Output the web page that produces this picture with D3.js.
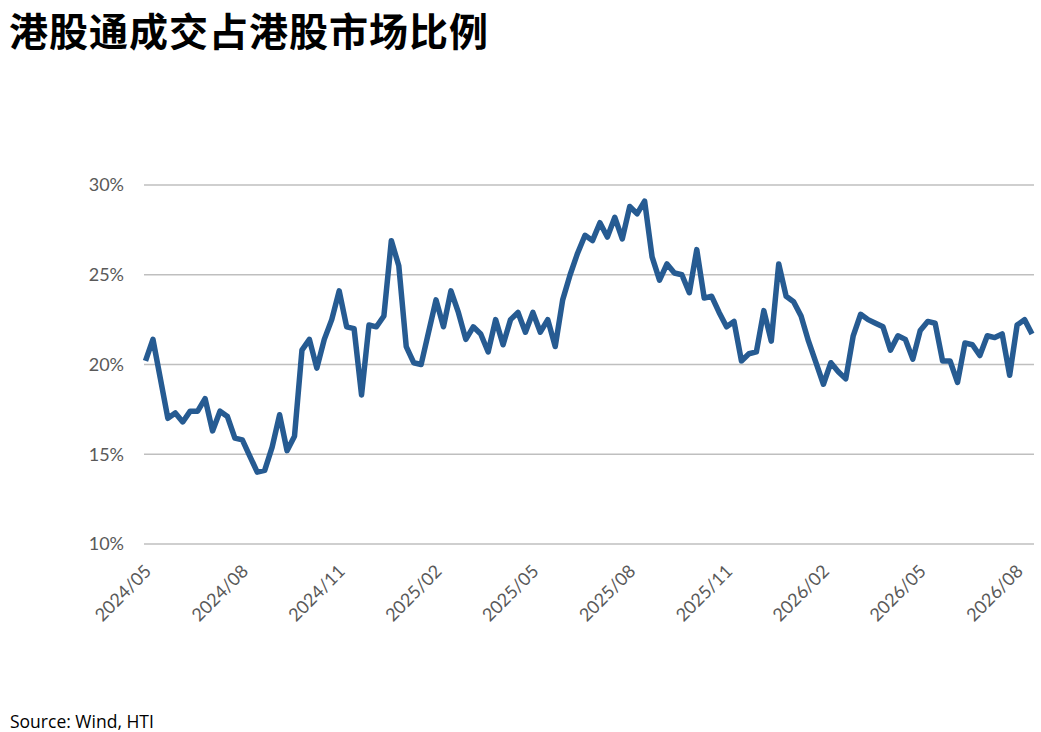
<!DOCTYPE html>
<html>
<head>
<meta charset="utf-8">
<script src="https://cdn.jsdelivr.net/npm/d3@7"></script>
<style>
  html, body { margin: 0; padding: 0; background: #fff; }
  svg { display: block; }
</style>
</head>
<body>
<div id="chart"></div>
<script>
// Weekly share of Southbound turnover in HK market turnover (%)
const shareValues = [
  20.2, 21.4, 19.2, 17.0, 17.3, 16.8, 17.4, 17.4, 18.1, 16.3,
  17.4, 17.1, 15.9, 15.8, 14.9, 14.0, 14.1, 15.4, 17.2, 15.2,
  16.0, 20.8, 21.4, 19.8, 21.4, 22.5, 24.1, 22.1, 22.0, 18.3,
  22.2, 22.1, 22.7, 26.9, 25.5, 21.0, 20.1, 20.0, 21.8, 23.6,
  22.1, 24.1, 22.9, 21.4, 22.1, 21.7, 20.7, 22.5, 21.1, 22.5,
  22.9, 21.8, 22.9, 21.8, 22.5, 21.0, 23.6, 25.0, 26.2, 27.2,
  26.9, 27.9, 27.1, 28.2, 27.0, 28.8, 28.4, 29.1, 26.0, 24.7,
  25.6, 25.1, 25.0, 24.0, 26.4, 23.7, 23.8, 22.9, 22.1, 22.4,
  20.2, 20.6, 20.7, 23.0, 21.3, 25.6, 23.8, 23.5, 22.7, 21.3,
  20.1, 18.9, 20.1, 19.6, 19.2, 21.6, 22.8, 22.5, 22.3, 22.1,
  20.8, 21.6, 21.4, 20.3, 21.9, 22.4, 22.3, 20.2, 20.2, 19.0,
  21.2, 21.1, 20.5, 21.6, 21.5, 21.7, 19.4, 22.2, 22.5, 21.7
];

// a label every 13th week
const tickLabels = [
  "2024/05", "2024/08", "2024/11", "2025/02", "2025/05",
  "2025/08", "2025/11", "2026/02", "2026/05", "2026/08"
];
const tickEvery = 13;

const yTicks = [10, 15, 20, 25, 30];

const titleText = "港股通成交占港股市场比例";
const sourceText = "Source: Wind, HTI";

const width = 1041;
const height = 732;
const lineColor = "#265b92";
const gridColor = "#bfbfbf";
const labelColor = "#595959";
const labelFont = "Lato, 'Open Sans', sans-serif";

const svg = d3.select("#chart")
  .append("svg")
  .attr("width", width)
  .attr("height", height);

// title (kept low enough that its box stays inside the page)
svg.append("text")
  .attr("x", 9)
  .attr("y", 45.5)
  .attr("font-family", "'Noto Sans CJK SC', sans-serif")
  .attr("font-weight", 700)
  .attr("font-size", "39px")
  .attr("letter-spacing", "1px")
  .attr("fill", "#000")
  .text(titleText);

const x = d3.scalePoint()
  .domain(d3.range(shareValues.length))
  .range([145.5, 1032]);

const y = d3.scaleLinear()
  .domain([10, 30])
  .range([544, 185]);

// gridlines
svg.append("g")
  .selectAll("line")
  .data(yTicks)
  .enter()
  .append("line")
  .attr("x1", 144)
  .attr("x2", 1034)
  .attr("y1", (d) => y(d))
  .attr("y2", (d) => y(d))
  .attr("stroke", gridColor)
  .attr("stroke-width", 1.6);

// y axis labels
const yAxis = d3.axisLeft(y)
  .tickValues(yTicks)
  .tickSize(0)
  .tickPadding(0)
  .tickFormat((d) => d + "%");

svg.append("g")
  .attr("transform", "translate(124,0)")
  .call(yAxis)
  .call((g) => g.select(".domain").remove())
  .selectAll("text")
  .attr("font-family", labelFont)
  .attr("font-size", "18px")
  .attr("fill", labelColor);

// x axis labels, rotated
const tickIdx = tickLabels.map((d, i) => i * tickEvery);
const xAxis = d3.axisBottom(x)
  .tickValues(tickIdx)
  .tickSize(0)
  .tickPadding(0)
  .tickFormat((d) => tickLabels[d / tickEvery]);

svg.append("g")
  .attr("transform", "translate(0,568)")
  .call(xAxis)
  .call((g) => g.select(".domain").remove())
  .selectAll("text")
  .attr("font-family", labelFont)
  .attr("font-size", "18px")
  .attr("fill", labelColor)
  .attr("text-anchor", "end")
  .attr("dy", "0.35em")
  .attr("transform", "translate(2,0) rotate(-45)");

// the series
const line = d3.line()
  .x((d, i) => x(i))
  .y((d) => y(d));

svg.append("path")
  .datum(shareValues)
  .attr("fill", "none")
  .attr("stroke", lineColor)
  .attr("stroke-width", 5.5)
  .attr("stroke-linejoin", "round")
  .attr("d", line);

// source
svg.append("text")
  .attr("x", 10)
  .attr("y", 728)
  .attr("font-family", "'Open Sans', sans-serif")
  .attr("font-size", "17.5px")
  .attr("fill", "#000")
  .text(sourceText);
</script>
</body>
</html>
